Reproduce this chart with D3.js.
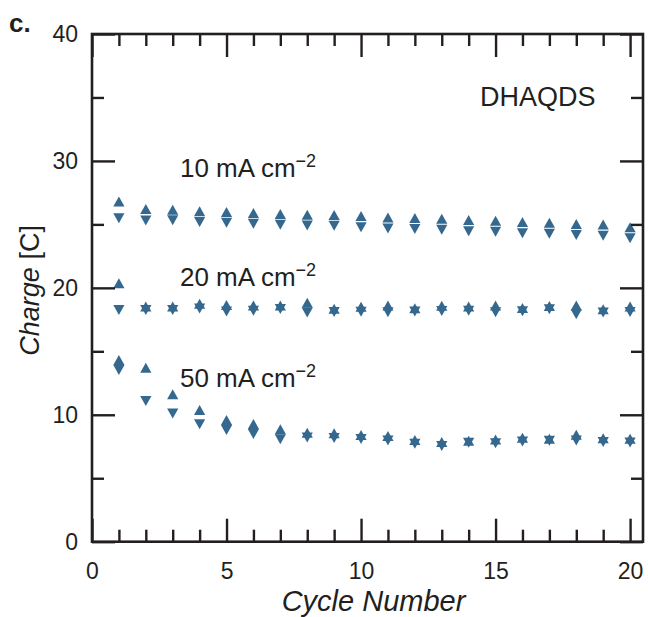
<!DOCTYPE html>
<html>
<head>
<meta charset="utf-8">
<script src="https://cdn.jsdelivr.net/npm/d3@7"></script>
<style>
  body { margin: 0; background: #fff; }
  text { font-family: "Liberation Sans", Arial, Helvetica, sans-serif; fill: #231f20; }
</style>
</head>
<body>
<svg id="chart" width="648" height="617"></svg>
<script>
// cycle numbers
const cycles = d3.range(1, 21)

// charge (up triangles) and discharge (down triangles), in C
const charge10 = [26.67, 26.08, 26.02, 25.90, 25.84, 25.77, 25.69, 25.63, 25.61, 25.52, 25.42, 25.37, 25.32, 25.21, 25.16, 25.05, 25.00, 24.90, 24.85, 24.64]
const discharge10 = [25.61, 25.43, 25.46, 25.32, 25.26, 25.18, 25.10, 25.05, 25.02, 24.90, 24.81, 24.76, 24.71, 24.60, 24.55, 24.44, 24.39, 24.29, 24.24, 24.04]

const charge20 = [20.23, 18.39, 18.39, 18.62, 18.52, 18.48, 18.47, 18.69, 18.23, 18.37, 18.47, 18.26, 18.46, 18.40, 18.47, 18.28, 18.44, 18.47, 18.18, 18.40]
const discharge20 = [18.39, 18.39, 18.39, 18.50, 18.26, 18.32, 18.47, 18.19, 18.23, 18.24, 18.21, 18.26, 18.31, 18.33, 18.21, 18.28, 18.44, 18.05, 18.18, 18.22]

const charge50 = [14.18, 13.58, 11.48, 10.24, 9.46, 9.14, 8.72, 8.45, 8.42, 8.28, 8.20, 7.88, 7.72, 7.82, 7.92, 8.06, 7.98, 8.30, 8.02, 7.98]
const discharge50 = [13.66, 11.22, 10.24, 9.38, 8.94, 8.62, 8.20, 8.35, 8.30, 8.22, 8.10, 7.84, 7.68, 7.92, 7.88, 8.02, 8.08, 8.10, 7.98, 7.94]

const xMajor = [0, 5, 10, 15, 20]
const yMajor = [0, 10, 20, 30, 40]

const seriesLabels = [
    { base: "10 mA cm", y: 28.7 },
    { base: "20 mA cm", y: 20.15 },
    { base: "50 mA cm", y: 12.2 },
]

const margin = { top: 34, right: 5, bottom: 75.3, left: 92 }
const width = 648, height = 617
const ink = "#231f20"
const markColor = "#35688e"

const x = d3.scaleLinear().domain([0, 20.48]).range([margin.left, width - margin.right])
const y = d3.scaleLinear().domain([0, 40]).range([height - margin.bottom, margin.top])

const svg = d3.select("#chart")

// triangle markers, centred on the centroid
const triUp = {
    draw(ctx, size) {
        const h = size, w = h * 0.56
        ctx.moveTo(0, -2 * h / 3)
        ctx.lineTo(w, h / 3)
        ctx.lineTo(-w, h / 3)
        ctx.closePath()
    }
}
const triDown = {
    draw(ctx, size) {
        const h = size, w = h * 0.56
        ctx.moveTo(0, 2 * h / 3)
        ctx.lineTo(w, -h / 3)
        ctx.lineTo(-w, -h / 3)
        ctx.closePath()
    }
}

// draw points
const series = [
    [charge10, discharge10],
    [charge20, discharge20],
    [charge50, discharge50],
]
const marks = svg.append("g").attr("fill", markColor)
series.forEach(([up, down]) => {
    marks.append("g").selectAll("path")
        .data(cycles.map((c, i) => [c, up[i]]))
        .join("path")
        .attr("transform", d => `translate(${x(d[0])},${y(d[1])})`)
        .attr("d", d3.symbol().type(triUp).size(10))
    marks.append("g").selectAll("path")
        .data(cycles.map((c, i) => [c, down[i]]))
        .join("path")
        .attr("transform", d => `translate(${x(d[0])},${y(d[1])})`)
        .attr("d", d3.symbol().type(triDown).size(10))
})

// axes: major + minor ticks pointing inward on all four sides
const axisStyle = g => {
    g.select(".domain").remove()
    g.selectAll("line").attr("stroke", ink).attr("stroke-width", 2.4)
    g.selectAll("text").attr("fill", ink).attr("font-size", 23)
}
const xMinor = d3.range(0, 21).filter(v => v % 5)
const yMinor = [5, 15, 25, 35]
const bottom = height - margin.bottom
const right = x(20.48)

svg.append("g").attr("transform", `translate(0,${bottom})`)
    .call(d3.axisBottom(x).tickValues(xMajor).tickSize(-23).tickPadding(21).tickFormat(d3.format("d")))
    .call(axisStyle)
svg.append("g").attr("transform", `translate(0,${bottom})`)
    .call(d3.axisBottom(x).tickValues(xMinor).tickSize(-12).tickFormat(""))
    .call(axisStyle)
svg.append("g").attr("transform", `translate(0,${margin.top})`)
    .call(d3.axisTop(x).tickValues(xMajor).tickSize(-23).tickFormat(""))
    .call(axisStyle)
svg.append("g").attr("transform", `translate(0,${margin.top})`)
    .call(d3.axisTop(x).tickValues(xMinor).tickSize(-12).tickFormat(""))
    .call(axisStyle)

svg.append("g").attr("transform", `translate(${margin.left},0)`)
    .call(d3.axisLeft(y).tickValues(yMajor).tickSize(-23).tickPadding(14).tickFormat(d3.format("d")))
    .call(axisStyle)
svg.append("g").attr("transform", `translate(${margin.left},0)`)
    .call(d3.axisLeft(y).tickValues(yMinor).tickSize(-12).tickFormat(""))
    .call(axisStyle)
svg.append("g").attr("transform", `translate(${right},0)`)
    .call(d3.axisRight(y).tickValues(yMajor).tickSize(-23).tickFormat(""))
    .call(axisStyle)
svg.append("g").attr("transform", `translate(${right},0)`)
    .call(d3.axisRight(y).tickValues(yMinor).tickSize(-12).tickFormat(""))
    .call(axisStyle)

// frame
svg.append("rect")
    .attr("x", margin.left).attr("y", margin.top)
    .attr("width", right - margin.left).attr("height", bottom - margin.top)
    .attr("fill", "none").attr("stroke", ink).attr("stroke-width", 2.6)

// axis titles
svg.append("text")
    .attr("x", (margin.left + right) / 2 + 6).attr("y", 611)
    .attr("text-anchor", "middle").attr("font-size", 29).attr("font-style", "italic")
    .text("Cycle Number")

const yt = svg.append("text")
    .attr("transform", `translate(39,${y(19.8)}) rotate(-90)`)
    .attr("text-anchor", "middle").attr("font-size", 27)
yt.append("tspan").attr("font-style", "italic").text("Charge")
yt.append("tspan").text(" [C]")

// panel letter and annotations
svg.append("text").attr("x", 9).attr("y", 32)
    .attr("font-size", 26).attr("font-weight", "bold").text("c.")

svg.append("text").attr("x", 480).attr("y", 106)
    .attr("font-size", 27).text("DHAQDS")

seriesLabels.forEach(s => {
    const t = svg.append("text").attr("x", x(3.27)).attr("y", y(s.y)).attr("font-size", 26)
    t.append("tspan").text(s.base)
    t.append("tspan").attr("dy", -10).attr("font-size", 18).text("−2")
})
</script>
</body>
</html>
